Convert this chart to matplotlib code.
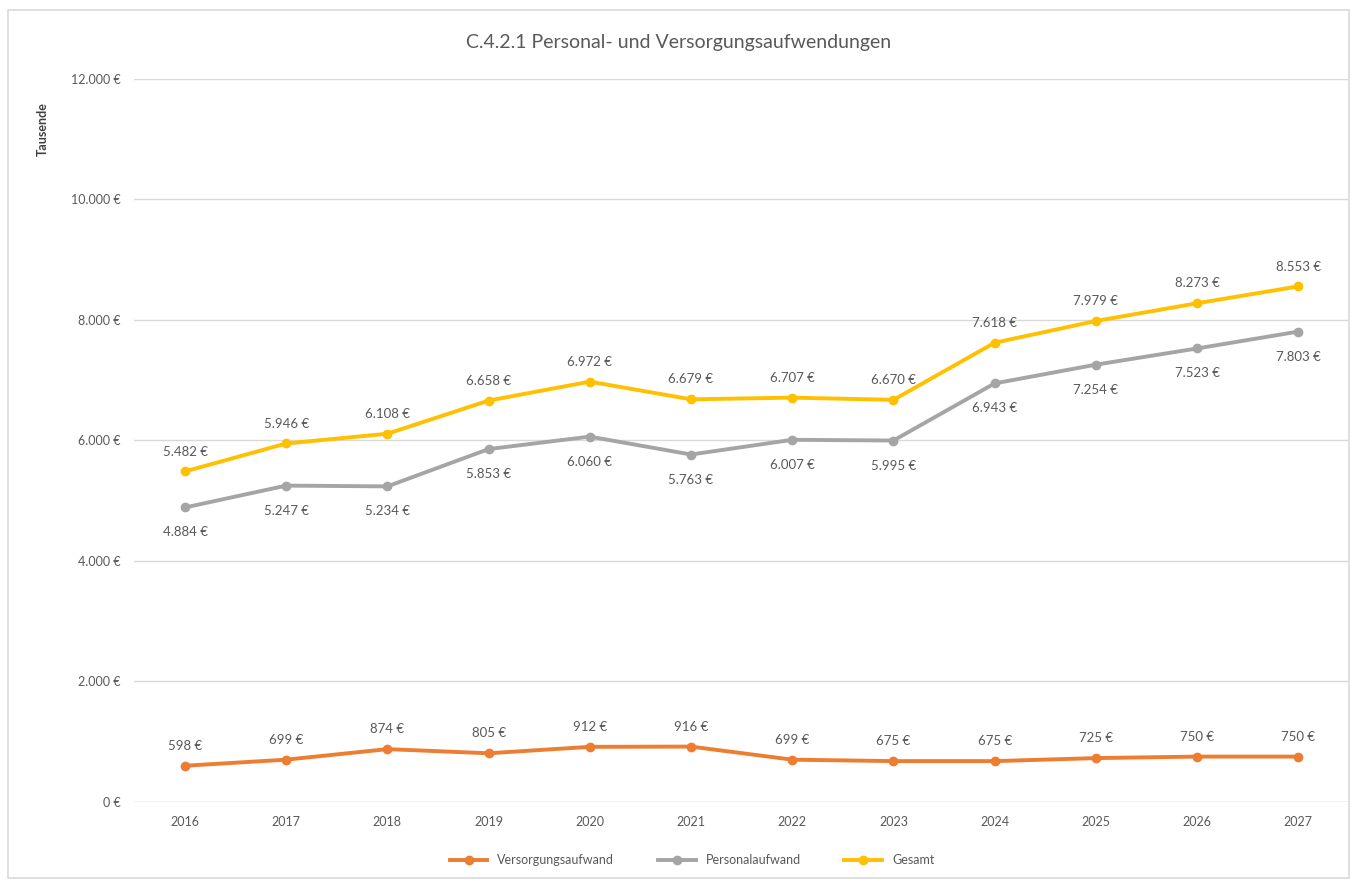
import matplotlib.pyplot as plt
from matplotlib.patches import Rectangle

years = ["2016", "2017", "2018", "2019", "2020", "2021", "2022", "2023", "2024", "2025", "2026", "2027"]
versorgung = [598, 699, 874, 805, 912, 916, 699, 675, 675, 725, 750, 750]
personal = [4884, 5247, 5234, 5853, 6060, 5763, 6007, 5995, 6943, 7254, 7523, 7803]
gesamt = [5482, 5946, 6108, 6658, 6972, 6679, 6707, 6670, 7618, 7979, 8273, 8553]
yticks = [0, 2000, 4000, 6000, 8000, 10000, 12000]

plt.rcParams['font.family'] = ['Lato', 'DejaVu Sans']
txt = '#595959'


def eur(v):
    return f"{v:,}".replace(",", ".") + " €"


fig = plt.figure(figsize=(13.57, 8.84), dpi=100)
fig.patches.append(Rectangle((0.006, 0.007), 0.988, 0.982, transform=fig.transFigure,
                             fill=False, edgecolor='#d9d9d9', linewidth=1.2))
ax = fig.add_axes([0.099, 0.093, 0.895, 0.818])

x = list(range(len(years)))
series = [
    ("Versorgungsaufwand", versorgung, '#ED7D31', 10),
    ("Personalaufwand", personal, '#A5A5A5', -18),
    ("Gesamt", gesamt, '#FFC000', 10),
]
for name, vals, col, off in series:
    ax.plot(x, vals, color=col, linewidth=2.8, marker='o', markersize=6, label=name)
    for xi, v in zip(x, vals):
        ax.annotate(eur(v), (xi, v), xytext=(0, off), textcoords='offset points',
                    ha='center', va='bottom' if off > 0 else 'center', fontsize=9.5, color=txt)

ax.set_xlim(-0.5, len(years) - 0.5)
ax.set_ylim(0, 12000)
ax.set_xticks(x)
ax.set_xticklabels(years)
ax.set_yticks(yticks)
ax.set_yticklabels([eur(v) for v in yticks])
ax.tick_params(length=0, labelsize=9, colors=txt, pad=10)
ax.grid(axis='y', color='#d9d9d9', linewidth=1)
ax.set_axisbelow(True)
for s in ax.spines.values():
    s.set_visible(False)
ax.axhline(0, color='#d9d9d9', linewidth=1)
ax.set_ylabel("Tausende", fontsize=9, fontweight='bold', color='#404040')
ax.yaxis.set_label_coords(-0.07, 0.93)

fig.text(0.5, 0.952, "C.4.2.1 Personal- und Versorgungsaufwendungen", ha='center', va='center',
         fontsize=14, color=txt)
fig.legend(loc='center', bbox_to_anchor=(0.51, 0.027), ncol=3, frameon=False,
           fontsize=9, labelcolor=txt, handlelength=3, columnspacing=3.5)

fig.savefig("out.png", dpi=100)
